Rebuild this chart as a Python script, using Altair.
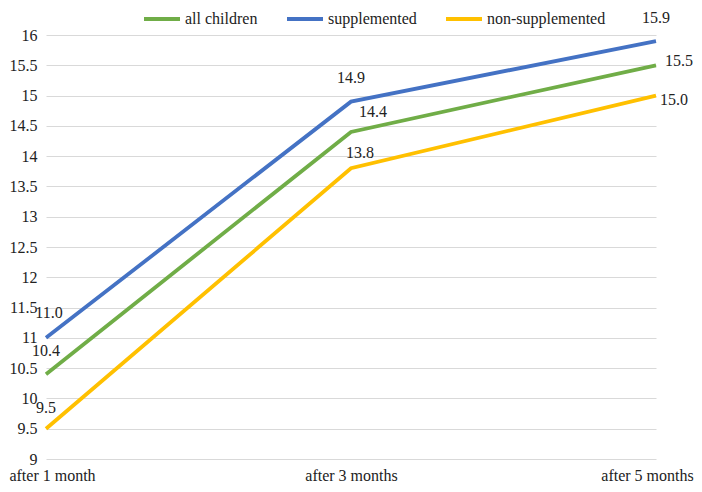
import altair as alt
import pandas as pd

times = ["after 1 month", "after 3 months", "after 5 months"]
series_names = ["all children", "supplemented", "non-supplemented"]
all_children = [10.4, 14.4, 15.5]
supplemented = [11.0, 14.9, 15.9]
non_supplemented = [9.5, 13.8, 15.0]
y_ticks = [9, 9.5, 10, 10.5, 11, 11.5, 12, 12.5, 13, 13.5, 14, 14.5, 15, 15.5, 16]

colors = ["#70AD47", "#4472C4", "#FFC000"]

rows = []
for name, vals in zip(series_names, [all_children, supplemented, non_supplemented]):
    for t, v in zip(times, vals):
        rows.append({"time": t, "series": name, "value": v})
df = pd.DataFrame(rows)

# label placement (style only): (dx, dy) in pixels
label_offsets = {
    ("supplemented", "after 1 month"): (3, -25),
    ("all children", "after 1 month"): (0, -23),
    ("non-supplemented", "after 1 month"): (0, -21),
    ("supplemented", "after 3 months"): (0, -24),
    ("all children", "after 3 months"): (22, -20),
    ("non-supplemented", "after 3 months"): (9, -15),
    ("supplemented", "after 5 months"): (0, -23),
    ("all children", "after 5 months"): (23, -4),
    ("non-supplemented", "after 5 months"): (18, 4),
}

FONT = "Liberation Serif"
TXT = "#222222"

x_enc = alt.X("time:N", sort=times, title=None,
              scale=alt.Scale(domain=times, paddingOuter=0, padding=0),
              axis=alt.Axis(labelAngle=0, domain=False, ticks=False, grid=False,
                            labelFont=FONT, labelFontSize=16, labelColor=TXT,
                            labelPadding=8, labelOverlap=False,
                            labelOffset={"condition": [
                                {"test": "datum.value == 'after 1 month'", "value": 6},
                                {"test": "datum.value == 'after 5 months'", "value": -9}],
                                "value": 0}))
y_enc = alt.Y("value:Q", title=None,
              scale=alt.Scale(domain=[9, 16], nice=False, zero=False),
              axis=alt.Axis(values=y_ticks, format="~g", domain=False, ticks=False,
                            gridColor="#D9D9D9", gridWidth=1, labelOverlap=False,
                            labelFont=FONT, labelFontSize=16, labelColor=TXT,
                            labelPadding=9))

lines = alt.Chart(df).mark_line(strokeWidth=3.8).encode(
    x=x_enc,
    y=y_enc,
    color=alt.Color("series:N", sort=series_names,
                    scale=alt.Scale(domain=series_names, range=colors),
                    legend=alt.Legend(orient="none", legendX=96, legendY=-36,
                                      direction="horizontal", title=None,
                                      symbolType="stroke", symbolSize=1296,
                                      symbolStrokeWidth=4,
                                      labelFont=FONT, labelFontSize=16, labelColor=TXT,
                                      labelOffset=3, columnPadding=21, padding=0)),
    detail="series:N",
)

texts = []
for (s, t), (dx, dy) in label_offsets.items():
    texts.append(
        alt.Chart(df).transform_filter(
            (alt.datum.series == s) & (alt.datum.time == t)
        ).mark_text(dx=dx, dy=dy, font=FONT, fontSize=16, color=TXT,
                    align="center", baseline="middle").encode(
            x=x_enc,
            y=y_enc,
            text=alt.Text("value:Q", format=".1f"),
        )
    )

chart = alt.layer(lines, *texts).properties(
    width=610, height=424,
    autosize=alt.AutoSizeParams(type="none"),
    padding={"left": 38, "top": 27, "right": 38, "bottom": 25},
).configure_view(stroke=None)

chart.save("out.html", embed_options={"renderer": "svg", "actions": False})
